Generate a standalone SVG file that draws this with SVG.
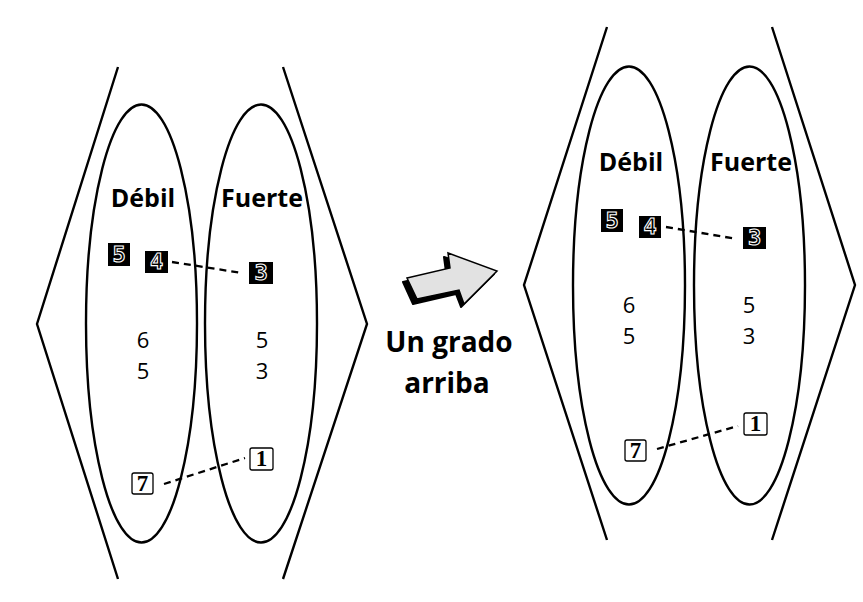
<svg xmlns="http://www.w3.org/2000/svg" width="863" height="602" viewBox="0 0 863 602">
<style>
.ln{fill:none;stroke:#000;stroke-width:2.4;stroke-linejoin:miter}
.el{fill:none;stroke:#000;stroke-width:2.4}
.hd{font-family:"Open Sans","Liberation Sans",sans-serif;font-weight:bold;font-size:25px;text-anchor:middle;fill:#000}
.num{font-family:"Open Sans","Liberation Sans",sans-serif;font-size:22px;text-anchor:middle;fill:#000}
.bk{fill:#000}
.bkt{font-family:"DejaVu Sans Mono","Liberation Mono",monospace;font-weight:bold;font-size:22px;text-anchor:middle;fill:#000;stroke:#fff;stroke-width:1.1}
.wb{fill:#fff;stroke:#000;stroke-width:1.3}
.wbt{font-family:"Liberation Serif","DejaVu Serif",serif;font-weight:bold;font-size:23px;text-anchor:middle;fill:#000}
.dash{fill:none;stroke:#000;stroke-width:2.3;stroke-dasharray:7 5}
.big{font-family:"Open Sans","Liberation Sans",sans-serif;font-weight:bold;font-size:28px;text-anchor:middle;fill:#000}
</style>
<rect width="863" height="602" fill="#fff"/>

<!-- LEFT DIAGRAM -->
<g id="left-bracket-a"><polyline class="ln" points="118,67 37,324 118,579"/></g>
<g id="left-bracket-b"><polyline class="ln" points="283,67 367,324 283,579"/></g>
<g id="left-debil">
<ellipse class="el" cx="141.5" cy="323.5" rx="55.5" ry="219"/>
<text class="hd" x="143" y="207">Débil</text>
<text class="num" x="143" y="348">6</text>
<text class="num" x="143" y="379">5</text>
</g>
<g id="left-fuerte">
<ellipse class="el" cx="261" cy="323.5" rx="56" ry="219"/>
<text class="hd" x="262" y="207">Fuerte</text>
<text class="num" x="262" y="348">5</text>
<text class="num" x="262" y="379">3</text>
</g>
<g id="left-n5"><rect class="bk" x="108" y="243" width="22" height="23"/><text class="bkt" x="119" y="262">5</text></g>
<g id="left-n4"><rect class="bk" x="145" y="251" width="23" height="22"/><text class="bkt" x="156.5" y="269">4</text></g>
<g id="left-n3"><rect class="bk" x="249" y="262" width="24" height="22"/><text class="bkt" x="261" y="280">3</text></g>
<g id="left-n7"><rect class="wb" x="132" y="473" width="21" height="21" rx="2"/><text class="wbt" x="142.5" y="491">7</text></g>
<g id="left-n1"><rect class="wb" x="250" y="448" width="23" height="22" rx="2"/><text class="wbt" x="261.5" y="466">1</text></g>

<!-- RIGHT DIAGRAM -->
<g id="right-bracket-a"><polyline class="ln" points="607,27 524,285 607,540"/></g>
<g id="right-bracket-b"><polyline class="ln" points="772,27 855,285 772,540"/></g>
<g id="right-debil">
<ellipse class="el" cx="629" cy="285.5" rx="56" ry="219"/>
<text class="hd" x="631" y="171">Débil</text>
<text class="num" x="629" y="313">6</text>
<text class="num" x="629" y="344">5</text>
</g>
<g id="right-fuerte">
<ellipse class="el" cx="749.5" cy="285.5" rx="55.5" ry="219"/>
<text class="hd" x="751" y="171">Fuerte</text>
<text class="num" x="749" y="313">5</text>
<text class="num" x="749" y="344">3</text>
</g>
<g id="right-n5"><rect class="bk" x="601" y="209" width="22" height="23"/><text class="bkt" x="612" y="228">5</text></g>
<g id="right-n4"><rect class="bk" x="639" y="216" width="22" height="22"/><text class="bkt" x="650" y="234">4</text></g>
<g id="right-n3"><rect class="bk" x="743" y="227" width="23" height="22"/><text class="bkt" x="754.5" y="245">3</text></g>
<g id="right-n7"><rect class="wb" x="625" y="440" width="21" height="21" rx="2"/><text class="wbt" x="635.5" y="458">7</text></g>
<g id="right-n1"><rect class="wb" x="744" y="413" width="23" height="22" rx="2"/><text class="wbt" x="755.5" y="431">1</text></g>

<!-- CENTER ARROW + LABEL -->
<g id="arrow-up">
<polygon fill="#000" stroke="#000" stroke-width="2" stroke-linejoin="round" points="403,282 446,272 444,257 494,274 461,307 456,294 413,304"/>
<polygon fill="#e2e2e2" stroke="#000" stroke-width="1.5" stroke-linejoin="miter" points="407,278 450,268 448,253 497,271 464,304 459,290 417,299"/>
<text class="big" x="449" y="352">Un grado</text>
<text class="big" x="447" y="393">arriba</text>
</g>

<g id="connectors">
<line class="dash" x1="172" y1="262" x2="242" y2="273"/>
<line class="dash" x1="164" y1="484" x2="245" y2="458"/>
<line class="dash" x1="666" y1="227" x2="737" y2="239"/>
<line class="dash" x1="657" y1="449" x2="738" y2="426"/>
</g>
</svg>
